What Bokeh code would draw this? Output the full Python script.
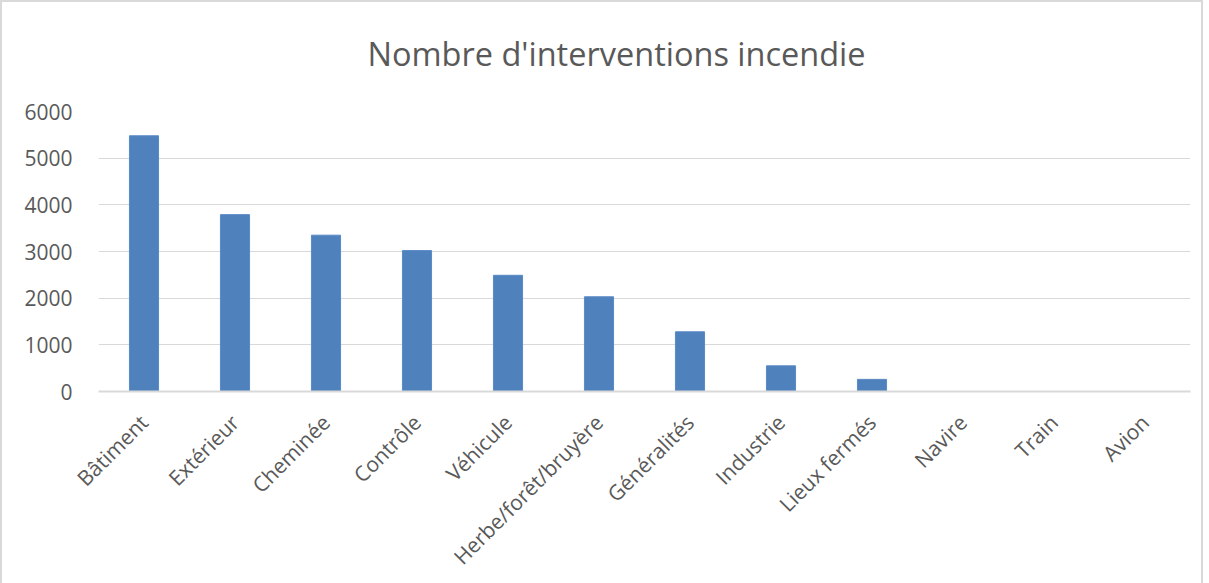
import math
from bokeh.plotting import figure
from bokeh.models import FixedTicker, Range1d, FactorRange, Title
from bokeh.embed import file_html
from bokeh.resources import INLINE

categories = ["Bâtiment", "Extérieur", "Cheminée", "Contrôle", "Véhicule",
              "Herbe/forêt/bruyère", "Généralités", "Industrie", "Lieux fermés",
              "Navire", "Train", "Avion"]
values = [5480, 3790, 3350, 3020, 2490, 2030, 1280, 550, 260, 0, 0, 0]
y_ticks = [0, 1000, 2000, 3000, 4000, 5000, 6000]
title_text = "Nombre d'interventions incendie"

FONT = "Open Sans"
GREY = "#595959"

p = figure(x_range=FactorRange(*categories, range_padding=0),
           y_range=Range1d(0, 6000),
           width=1199, height=575, frame_width=1092, frame_height=280,
           output_backend="svg", toolbar_location=None,
           min_border_left=96, min_border_right=11, min_border_top=108, min_border_bottom=187)
p.styles = {"border": "2px solid #d9d9d9"}
p.outline_line_color = None
p.background_fill_color = "white"
p.border_fill_color = "white"

spacer = Title(text=" ", text_font_size="2px", standoff=6, text_color="white")
p.add_layout(spacer, "above")
t = Title(text=title_text, align="left", offset=269, text_font=FONT, text_font_size="32.5px",
          text_color=GREY, text_font_style="normal", standoff=52)
p.add_layout(t, "above")

p.vbar(x=categories, top=values, width=0.32, fill_color="#4f81bd", line_color="#5a8ac6",
       line_width=1)

p.yaxis.ticker = FixedTicker(ticks=y_ticks)
p.yaxis.axis_line_color = None
p.yaxis.major_tick_line_color = None
p.yaxis.minor_tick_line_color = None
p.yaxis.major_label_text_font = FONT
p.yaxis.major_label_text_font_size = "21px"
p.yaxis.major_label_text_color = GREY
p.yaxis.major_label_standoff = 20

p.xaxis.axis_line_color = "#d9d9d9"
p.xaxis.axis_line_width = 2
p.xaxis.major_tick_line_color = None
p.xaxis.minor_tick_line_color = None
p.xaxis.major_label_orientation = math.pi / 4
p.xaxis.major_label_text_font = FONT
p.xaxis.major_label_text_font_size = "21px"
p.xaxis.major_label_text_color = GREY
p.xaxis.major_label_standoff = 21

p.xgrid.grid_line_color = None
p.ygrid.grid_line_color = "#d9d9d9"
p.ygrid.grid_line_width = 1

open("out.html", "w").write(file_html(p, INLINE))
